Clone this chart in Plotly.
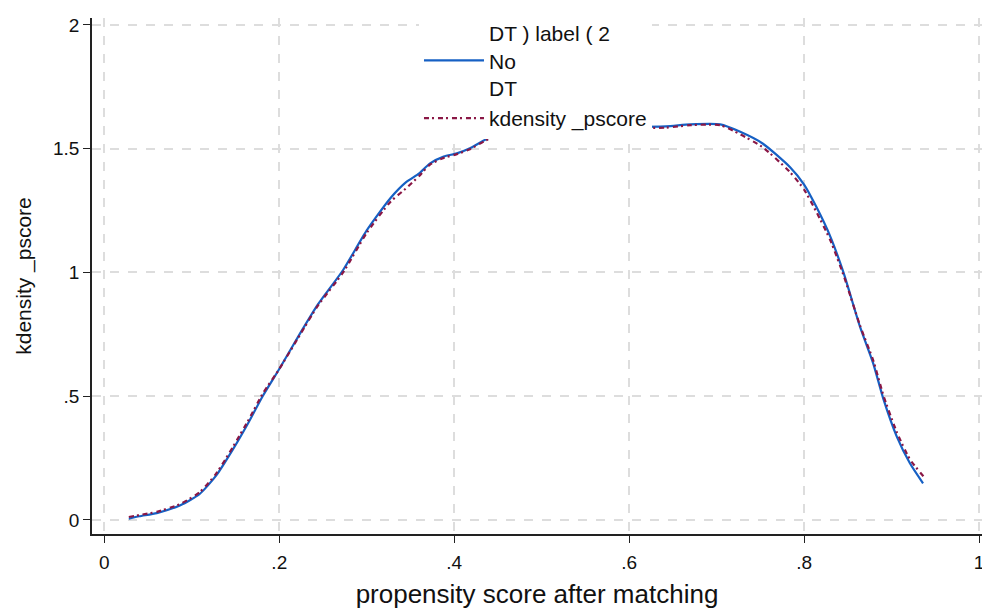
import plotly.graph_objects as go

# propensity score grid (x) and kernel densities (y)
x_nodt = [0.028, 0.04, 0.06, 0.087, 0.109, 0.128, 0.147, 0.165, 0.181, 0.2, 0.224, 0.244,
          0.273, 0.300, 0.327, 0.345, 0.36, 0.372, 0.388, 0.403, 0.418, 0.443, 0.48, 0.52,
          0.56, 0.60, 0.642, 0.670, 0.704, 0.727, 0.753, 0.784, 0.80, 0.814, 0.830, 0.845,
          0.864, 0.879, 0.891, 0.906, 0.921, 0.936]
y_nodt = [0.005, 0.015, 0.028, 0.06, 0.105, 0.18, 0.285, 0.395, 0.50, 0.61, 0.755, 0.87,
          1.01, 1.17, 1.30, 1.365, 1.40, 1.44, 1.468, 1.481, 1.502, 1.549, 1.57, 1.58,
          1.585, 1.588, 1.59, 1.598, 1.598, 1.568, 1.52, 1.425, 1.355, 1.265, 1.145, 1.0,
          0.78, 0.633, 0.485, 0.337, 0.229, 0.148]

x_all = [0.028, 0.04, 0.06, 0.087, 0.109, 0.128, 0.147, 0.165, 0.181, 0.2, 0.224, 0.244,
         0.273, 0.300, 0.327, 0.345, 0.36, 0.372, 0.388, 0.403, 0.418, 0.443, 0.48, 0.52,
         0.56, 0.60, 0.642, 0.670, 0.704, 0.727, 0.753, 0.784, 0.80, 0.814, 0.830, 0.845,
         0.864, 0.879, 0.891, 0.906, 0.921, 0.938]
y_all = [0.012, 0.02, 0.033, 0.065, 0.112, 0.188, 0.295, 0.405, 0.51, 0.61, 0.75, 0.865,
         1.0, 1.16, 1.285, 1.34, 1.39, 1.435, 1.463, 1.478, 1.498, 1.545, 1.565, 1.575,
         1.58, 1.583, 1.585, 1.595, 1.595, 1.558, 1.505, 1.405, 1.335, 1.245, 1.13, 0.99,
         0.785, 0.645, 0.50, 0.355, 0.245, 0.17]

x_ticks = [0, 0.2, 0.4, 0.6, 0.8, 1]
x_labels = ["0", ".2", ".4", ".6", ".8", "1"]
y_ticks = [0, 0.5, 1, 1.5, 2]
y_labels = ["0", ".5", "1", "1.5", "2"]

name_nodt = "DT ) label ( 2<br>No<br>DT"
name_all = "kdensity _pscore"

FONT = "Liberation Sans, Arial"

fig = go.Figure()
fig.add_trace(go.Scatter(x=x_nodt, y=y_nodt, mode="lines", name=name_nodt,
                         line=dict(color="#1660c4", width=2.2, shape="spline", smoothing=0.6)))
fig.add_trace(go.Scatter(x=x_all, y=y_all, mode="lines", name=name_all,
                         line=dict(color="#8a1745", width=2.2, dash="5px,3px,2px,4px",
                                   shape="spline", smoothing=0.6)))

axis_common = dict(
    showline=True, linecolor="#222222", linewidth=1.6,
    ticks="outside", ticklen=7, tickwidth=1.4, tickcolor="#222222",
    showgrid=True, gridcolor="#dddddd", gridwidth=1.5, griddash="dash",
    zeroline=False, automargin=False, ticklabeloverflow="allow",
    tickfont=dict(family=FONT, size=19, color="#111111"),
)

fig.update_layout(
    width=982, height=609,
    margin=dict(l=92, r=0, t=18, b=75),
    paper_bgcolor="white", plot_bgcolor="white",
    font=dict(family=FONT, color="#111111"),
    xaxis=dict(range=[-0.0141, 1.0034], tickvals=x_ticks, ticktext=x_labels,
               ticklabelstandoff=3,
               title=dict(text="propensity score after matching", standoff=14,
                          font=dict(size=26, family=FONT, color="#111111")),
               **axis_common),
    yaxis=dict(range=[-0.0566, 2.028], tickvals=y_ticks, ticktext=y_labels,
               title=dict(text="kdensity _pscore", standoff=16,
                          font=dict(size=21, family=FONT, color="#111111")),
               **axis_common),
    legend=dict(x=0.3674, y=1.0097, xanchor="left", yanchor="top", bgcolor="white",
                borderwidth=0, font=dict(size=21, family=FONT, color="#111111"),
                itemwidth=60, tracegroupgap=0),
    showlegend=True,
)

fig.write_html("out.html", config={"displayModeBar": False},
               post_script="document.body.style.margin='0';document.body.style.padding='0';")
